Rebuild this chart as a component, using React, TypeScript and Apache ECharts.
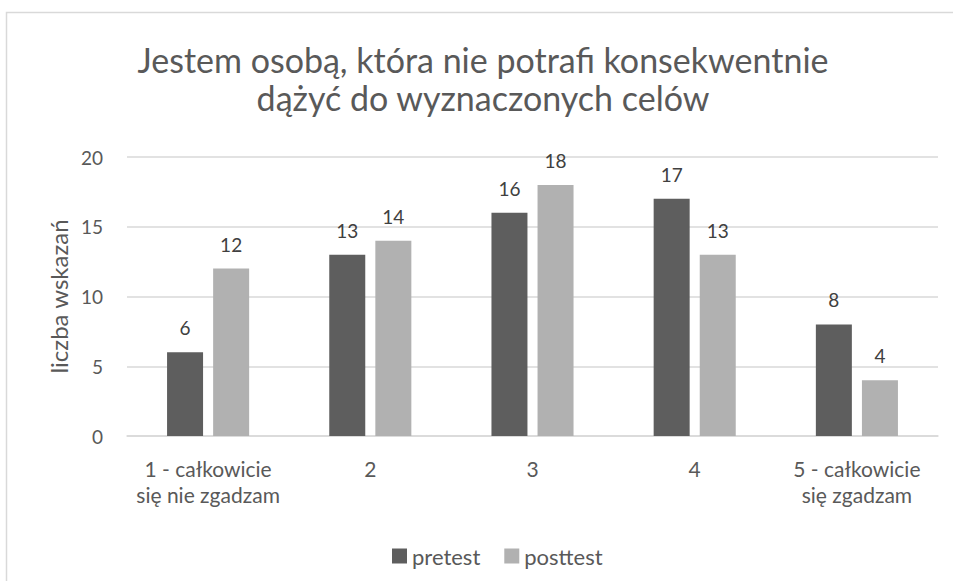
import React, { useEffect, useRef } from "react";
import * as echarts from "echarts";

const categories = ["1 - całkowicie\nsię nie zgadzam", "2", "3", "4", "5 - całkowicie\nsię zgadzam"];
const pretest = [6, 13, 16, 17, 8];
const posttest = [12, 14, 18, 13, 4];
const titleText = "Jestem osobą, która nie potrafi konsekwentnie\ndążyć do wyznaczonych celów";
const yName = "liczba wskazań";

const FONT = "Lato, 'Open Sans', sans-serif";
const TXT = "#595959";

export default function App() {
  const ref = useRef<HTMLDivElement>(null);
  useEffect(() => {
    if (!ref.current) return;
    const chart = echarts.init(ref.current, null, { renderer: "svg" });
    chart.setOption({
      animation: false,
      backgroundColor: "#ffffff",
      textStyle: { fontFamily: FONT },
      graphic: [
        {
          type: "rect",
          shape: { x: 6.5, y: 12.5, width: 1000, height: 1000 },
          style: { fill: "none", stroke: "#d9d9d9", lineWidth: 1.5 },
          silent: true,
        },
        {
          type: "text",
          x: 483,
          y: 40,
          style: {
            text: titleText,
            textAlign: "center",
            textVerticalAlign: "top",
            fontFamily: FONT,
            fontSize: 34,
            lineHeight: 38,
            fill: TXT,
          },
          silent: true,
        },
      ],
      legend: {
        data: ["pretest", "posttest"],
        left: 387,
        top: 540,
        icon: "rect",
        itemWidth: 15,
        itemHeight: 15,
        itemGap: 24,
        textStyle: { fontFamily: FONT, fontSize: 22, color: TXT },
      },
      grid: { left: 127, right: 15, top: 157, bottom: 145 },
      xAxis: {
        type: "category",
        data: categories,
        axisLine: { lineStyle: { color: "#d9d9d9", width: 1.5 } },
        axisTick: { show: false },
        axisLabel: { color: TXT, fontSize: 21, fontFamily: FONT, lineHeight: 26, margin: 19, interval: 0 },
      },
      yAxis: {
        type: "value",
        min: 0,
        max: 20,
        interval: 5,
        name: yName,
        nameLocation: "middle",
        nameGap: 57,
        nameTextStyle: { color: TXT, fontSize: 24, fontFamily: FONT },
        axisLine: { show: false },
        axisTick: { show: false },
        axisLabel: { color: TXT, fontSize: 19, fontFamily: FONT, margin: 24 },
        splitLine: { lineStyle: { color: "#d9d9d9", width: 1.5 } },
      },
      series: [
        {
          name: "pretest",
          type: "bar",
          data: pretest,
          barWidth: 36,
          barGap: "28%",
          itemStyle: { color: "#5e5e5e" },
          label: { show: true, position: "top", distance: 15, color: "#404040", fontSize: 19, fontFamily: FONT },
        },
        {
          name: "posttest",
          type: "bar",
          data: posttest,
          barWidth: 36,
          barGap: "28%",
          itemStyle: { color: "#b1b1b1" },
          label: { show: true, position: "top", distance: 15, color: "#404040", fontSize: 19, fontFamily: FONT },
        },
      ],
    });
    return () => chart.dispose();
  }, []);
  return <div ref={ref} style={{ position: "fixed", left: 0, top: 0, width: 953, height: 581 }} />;
}
